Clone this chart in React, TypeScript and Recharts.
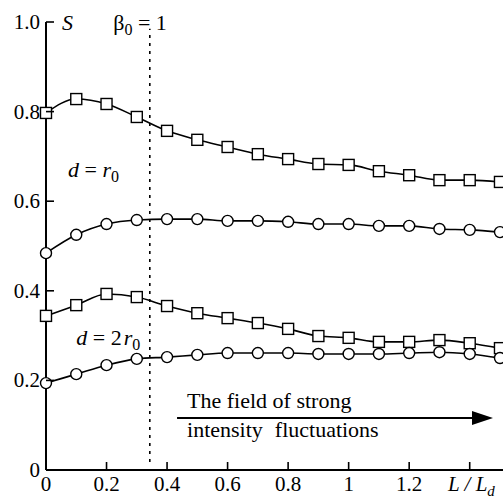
import React from 'react';
import { LineChart, Line, XAxis, YAxis, ReferenceLine, ReferenceDot, Label } from 'recharts';

// L / L_d
const lengths = [0, 0.1, 0.2, 0.3, 0.4, 0.5, 0.6, 0.7, 0.8, 0.9, 1.0, 1.1, 1.2, 1.3, 1.4, 1.5];
// d = r0
const squaresR0 = [0.797, 0.828, 0.817, 0.788, 0.757, 0.737, 0.721, 0.705, 0.694, 0.683, 0.681, 0.667, 0.658, 0.647, 0.647, 0.643];
const circlesR0 = [0.484, 0.525, 0.549, 0.558, 0.56, 0.56, 0.556, 0.556, 0.554, 0.549, 0.549, 0.545, 0.545, 0.538, 0.536, 0.531];
// d = 2 r0
const squares2R0 = [0.344, 0.368, 0.393, 0.386, 0.366, 0.35, 0.339, 0.328, 0.315, 0.299, 0.295, 0.286, 0.286, 0.29, 0.283, 0.272];
const circles2R0 = [0.194, 0.214, 0.234, 0.248, 0.252, 0.257, 0.261, 0.261, 0.261, 0.259, 0.259, 0.259, 0.261, 0.263, 0.259, 0.25];

const xTicks = [0, 0.2, 0.4, 0.6, 0.8, 1, 1.2, 1.4];
const yTicks = [0, 0.2, 0.4, 0.6, 0.8, 1];
const beta0 = 0.343; // β0 = 1

const data = lengths.map((l, i) => ({
  l,
  sqR0: squaresR0[i],
  ciR0: circlesR0[i],
  sq2R0: squares2R0[i],
  ci2R0: circles2R0[i],
}));

const FONT = '"Liberation Serif", "Times New Roman", serif';
const INK = '#000';

const SquareDot = (p: any) => (
  <rect key={p.key} x={p.cx - 5.5} y={p.cy - 5.5} width={11} height={11} fill="#fff" stroke={INK} strokeWidth={1.4} />
);
const CircleDot = (p: any) => (
  <circle key={p.key} cx={p.cx} cy={p.cy} r={5.5} fill="#fff" stroke={INK} strokeWidth={1.4} />
);

const XTick = ({ x, y, payload }: any) => {
  const v = payload.value;
  return (
    <g>
      <line x1={x} y1={y} x2={x} y2={y - 8} stroke={INK} strokeWidth={1.6} />
      {v < 1.3 && (
        <text x={x} y={y + 21} textAnchor="middle" fontFamily={FONT} fontSize={21} fill={INK}>
          {v === 0 ? '0' : v === 1 ? '1' : v.toFixed(1)}
        </text>
      )}
    </g>
  );
};

const YTick = ({ x, y, payload }: any) => {
  const v = payload.value;
  return (
    <g>
      <line x1={x} y1={y} x2={x + 8} y2={y} stroke={INK} strokeWidth={1.6} />
      <text x={x - 6} y={y + 7} textAnchor="end" fontFamily={FONT} fontSize={21} fill={INK}>
        {v === 0 ? '0' : v.toFixed(1)}
      </text>
    </g>
  );
};

// text placed at a data position
const note = (content: React.ReactNode) => (p: any) => (
  <text x={p.cx} y={p.cy} fontFamily={FONT} fontSize={22} fill={INK}>
    {content}
  </text>
);

const Arrow = (p: any) => (
  <g>
    <line x1={p.x1} y1={p.y1} x2={p.x2 - 18} y2={p.y2} stroke={INK} strokeWidth={2} />
    <polygon points={`${p.x2},${p.y2} ${p.x2 - 21},${p.y2 - 7} ${p.x2 - 21},${p.y2 + 7}`} fill={INK} />
  </g>
);

export default function App() {
  return (
    <div style={{ position: 'absolute', left: 0, top: 0, background: '#fff' }}>
      <LineChart width={503} height={497} data={data} margin={{ top: 22, right: 0, left: 0, bottom: 0 }}>
        <XAxis
          dataKey="l"
          type="number"
          domain={[0, 1.51]}
          ticks={xTicks}
          height={27}
          tickSize={0}
          tickMargin={0}
          tickLine={false}
          tick={<XTick />}
          axisLine={{ stroke: INK, strokeWidth: 2 }}
        >
          <Label
            content={({ viewBox }: any) => (
              <text x={viewBox.x + viewBox.width - 55} y={viewBox.y + 21} fontFamily={FONT} fontSize={21} fontStyle="italic" fill={INK}>
                L / L
                <tspan dy={5} fontSize={15}>d</tspan>
              </text>
            )}
          />
        </XAxis>
        <YAxis
          type="number"
          domain={[0, 1]}
          ticks={yTicks}
          width={46}
          tickSize={0}
          tickMargin={0}
          tickLine={false}
          tick={<YTick />}
          axisLine={{ stroke: INK, strokeWidth: 2 }}
        />

        <ReferenceLine
          segment={[{ x: beta0, y: 0.018 }, { x: beta0, y: 0.985 }]}
          stroke={INK}
          strokeWidth={1.6}
          strokeDasharray="3 5"
        />
        <ReferenceLine segment={[{ x: 0.433, y: 0.116 }, { x: 1.477, y: 0.116 }]} shape={Arrow} />

        <Line type="monotone" dataKey="sqR0" stroke={INK} strokeWidth={1.6} dot={SquareDot} activeDot={false} isAnimationActive={false} />
        <Line type="monotone" dataKey="ciR0" stroke={INK} strokeWidth={1.6} dot={CircleDot} activeDot={false} isAnimationActive={false} />
        <Line type="monotone" dataKey="sq2R0" stroke={INK} strokeWidth={1.6} dot={SquareDot} activeDot={false} isAnimationActive={false} />
        <Line type="monotone" dataKey="ci2R0" stroke={INK} strokeWidth={1.6} dot={CircleDot} activeDot={false} isAnimationActive={false} />

        <ReferenceDot x={0.053} y={0.982} r={0} shape={note(<tspan fontStyle="italic">S</tspan>)} />
        <ReferenceDot
          x={0.222}
          y={0.982}
          r={0}
          shape={note(
            <>
              β<tspan dy={5} fontSize={16}>0</tspan>
              <tspan dy={-5}> = 1</tspan>
            </>
          )}
        />
        <ReferenceDot
          x={0.073}
          y={0.654}
          r={0}
          shape={note(
            <>
              <tspan fontStyle="italic">d</tspan> = <tspan fontStyle="italic">r</tspan>
              <tspan dy={5} fontSize={16}>0</tspan>
            </>
          )}
        />
        <ReferenceDot
          x={0.1}
          y={0.279}
          r={0}
          shape={note(
            <>
              <tspan fontStyle="italic">d</tspan> = 2<tspan dx={2} fontStyle="italic">r</tspan>
              <tspan dy={5} fontSize={16}>0</tspan>
            </>
          )}
        />
        <ReferenceDot x={0.466} y={0.138} r={0} shape={note('The field of strong')} />
        <ReferenceDot
          x={0.466}
          y={0.074}
          r={0}
          shape={note(
            <>
              intensity<tspan dx={12}>fluctuations</tspan>
            </>
          )}
        />
      </LineChart>
    </div>
  );
}
